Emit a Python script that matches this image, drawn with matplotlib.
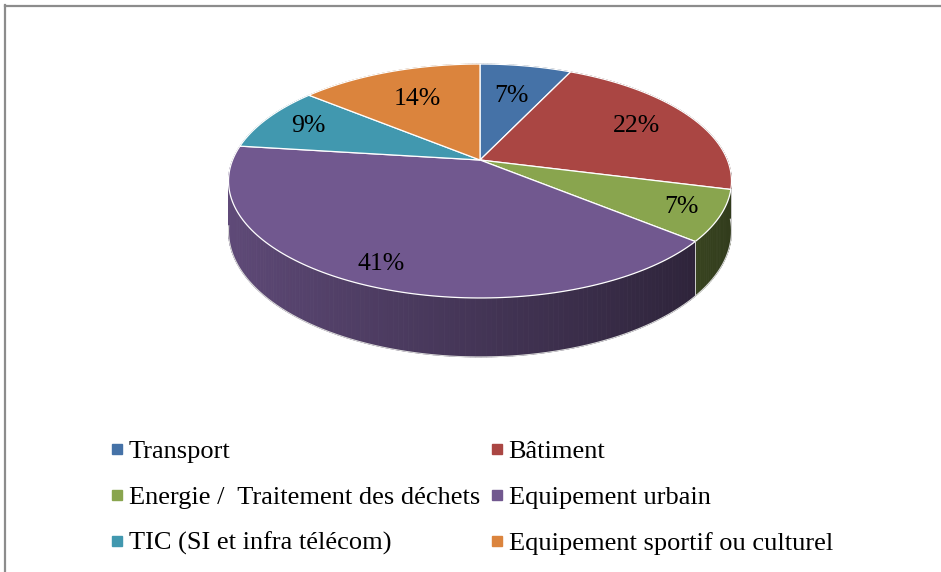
import numpy as np
import matplotlib.pyplot as plt
from matplotlib.patches import Polygon
from matplotlib.lines import Line2D
from matplotlib.colors import to_rgb

plt.rcParams['font.family'] = ['Liberation Serif', 'DejaVu Serif']

# data
categories = ["Transport", "Bâtiment", "Energie /  Traitement des déchets",
              "Equipement urbain", "TIC (SI et infra télécom)",
              "Equipement sportif ou culturel"]
shares = [7, 22, 7, 41, 9, 14]
colors = ["#4572A7", "#AA4643", "#89A54E", "#71588F", "#4198AF", "#DB843D"]
label_radius = [0.65, 0.74, 0.85, 0.86, 0.8, 0.66]

# 3d pie look (perspective projection of a flat cylinder), in pixel units
CX, CY = 480, 160
RX, RY = 247.4, 113.2
K = 0.1795
DEPTH = 48.4


def project(theta, r=1.0, z=0.0):
    X = r * np.sin(theta)
    Y = -r * np.cos(theta)
    w = 1 - K * Y
    return CX + RX * X / w, CY + (RY * Y + DEPTH * z) / w


def shade(theta):
    return 0.6 - 0.25 * np.sin(theta)


fig = plt.figure(figsize=(9.41, 5.72), dpi=100)
ax = fig.add_axes([0, 0, 1, 1])
ax.set_xlim(0, 941)
ax.set_ylim(572, 0)
ax.axis('off')

frac = np.array(shares, dtype=float) / sum(shares)
bounds = np.concatenate([[0], np.cumsum(frac)]) * 2 * np.pi

# outer walls, back to front
quads = []
for i in range(len(shares)):
    t0, t1 = bounds[i], bounds[i + 1]
    n = max(int(np.degrees(t1 - t0)), 2)
    ts = np.linspace(t0, t1, n + 1)
    base = np.array(to_rgb(colors[i]))
    for a, b in zip(ts[:-1], ts[1:]):
        m = (a + b) / 2
        pts = [project(a), project(b), project(b, z=1), project(a, z=1)]
        col = np.clip(base * shade(m), 0, 1)
        quads.append((-np.cos(m), pts, col))
quads.sort(key=lambda q: q[0])
for _, pts, col in quads:
    ax.add_patch(Polygon(pts, closed=True, facecolor=col, edgecolor=col, lw=0.6))

# bottom rim and wall seams
tt = np.linspace(np.radians(95), np.radians(262), 200)
bu, bv = project(tt, z=1)
ax.plot(bu, bv, color='#d9d9d9', lw=0.8)
for t in bounds[:-1]:
    if -np.cos(t) > 0.1:
        u0, v0 = project(t)
        u1, v1 = project(t, z=1)
        ax.plot([u0, u1], [v0, v1], color='#cfcfcf', lw=0.7)

# top faces
for i in range(len(shares)):
    ts = np.linspace(bounds[i], bounds[i + 1], 120)
    u, v = project(ts)
    pts = [(CX, CY)] + list(zip(u, v))
    ax.add_patch(Polygon(pts, closed=True, facecolor=colors[i],
                         edgecolor='white', lw=0.9))

# labels
for i, s in enumerate(shares):
    mid = (bounds[i] + bounds[i + 1]) / 2
    u, v = project(mid, label_radius[i])
    ax.text(u, v, f"{s}%", ha='center', va='center', fontsize=18.5, color='black')

# chart frame (top and left edges visible)
ax.plot([5, 941], [5.5, 5.5], color='#8c8c8c', lw=1.6, clip_on=False)
ax.plot([5.5, 5.5], [5, 572], color='#8c8c8c', lw=1.6, clip_on=False)

handles = [Line2D([], [], marker='s', linestyle='', markersize=7,
                  markerfacecolor=c, markeredgecolor=c) for c in colors]
# legend fills column by column, so reorder to read row by row
order = [0, 2, 4, 1, 3, 5]
ax.legend([handles[i] for i in order], [categories[i] for i in order],
          ncol=2, frameon=False, fontsize=19,
          loc='upper left', bbox_to_anchor=(111 / 941, 1 - 440 / 572),
          handlelength=0.42, handletextpad=0.25, columnspacing=0.42,
          labelspacing=0.84, borderpad=0, borderaxespad=0)

fig.savefig('out.png', dpi=100, facecolor='white')
